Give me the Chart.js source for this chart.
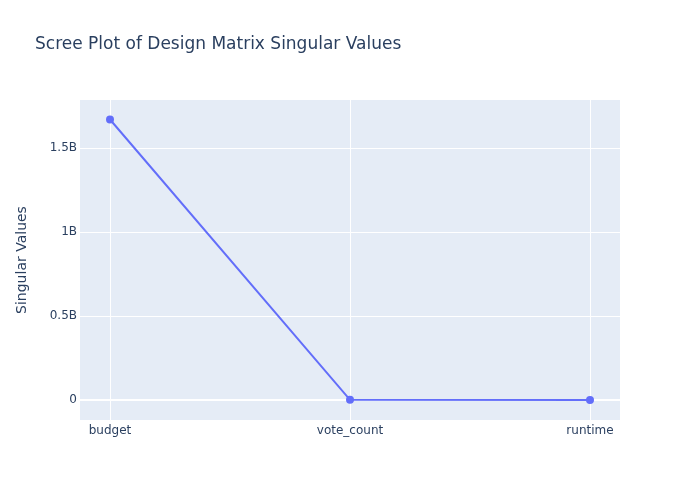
<!DOCTYPE html>
<html>
<head>
<meta charset="utf-8">
<script src="https://cdn.jsdelivr.net/npm/chart.js@4"></script>
<style>html,body{margin:0;padding:0;background:#fff}canvas{display:block}</style>
</head>
<body>
<canvas id="c" width="700" height="500"></canvas>
<script>
const categories = ["budget", "vote_count", "runtime"];
const singularValues = [1.67e9, 1.2e6, 4.5e4];
const yTickValues = [0, 0.5e9, 1e9, 1.5e9];
const yTickLabels = ["0", "0.5B", "1B", "1.5B"];
const titleText = "Scree Plot of Design Matrix Singular Values";
const yAxisTitle = "Singular Values";

const FONT = "'DejaVu Sans', verdana, arial, sans-serif";
const TXT = "#2a3f5f";

const bgPlugin = {
  id: "bg",
  beforeDraw(chart) {
    const {ctx, chartArea: a} = chart;
    ctx.save();
    ctx.fillStyle = "#E5ECF6";
    ctx.fillRect(a.left, a.top, a.right - a.left, a.bottom - a.top);
    ctx.restore();
  },
  afterDraw(chart) {
    const ctx = chart.ctx;
    ctx.save();
    ctx.font = "17px " + FONT;
    ctx.fillStyle = TXT;
    ctx.textBaseline = "middle";
    ctx.textAlign = "left";
    ctx.fillText(titleText, 35, 45);
    ctx.restore();
  }
};

new Chart(document.getElementById("c"), {
  type: "line",
  data: {
    datasets: [{
      data: categories.map((c, i) => ({x: i, y: singularValues[i]})),
      borderColor: "#636efa",
      backgroundColor: "#636efa",
      borderWidth: 2,
      pointRadius: 3,
      pointHoverRadius: 3,
      tension: 0
    }]
  },
  options: {
    responsive: false,
    animation: false,
    layout: {padding: {top: 100, right: 80, bottom: 0, left: 0}},
    plugins: {legend: {display: false}, tooltip: {enabled: false}, title: {display: false}},
    scales: {
      x: {
        type: "linear",
        min: -0.125,
        max: 2.125,
        afterBuildTicks: s => { s.ticks = categories.map((c, i) => ({value: i})); },
        afterFit: s => { s.height = 80; },
        grid: {color: "#ffffff", lineWidth: 1, drawTicks: false},
        border: {display: false},
        ticks: {
          padding: 4,
          color: TXT,
          font: {family: FONT, size: 12},
          maxRotation: 0,
          autoSkip: false,
          callback: v => categories[v] ?? ""
        }
      },
      y: {
        type: "linear",
        min: -0.119e9,
        max: 1.786e9,
        afterBuildTicks: s => { s.ticks = yTickValues.map(v => ({value: v})); },
        afterFit: s => { s.width = 80; },
        grid: {
          color: "#ffffff",
          lineWidth: ctx => (ctx.tick && ctx.tick.value === 0 ? 2 : 1),
          drawTicks: false
        },
        border: {display: false},
        ticks: {
          padding: 3,
          color: TXT,
          font: {family: FONT, size: 12},
          callback: v => { const i = yTickValues.indexOf(v); return i >= 0 ? yTickLabels[i] : ""; }
        },
        title: {
          display: true,
          text: yAxisTitle,
          color: TXT,
          font: {family: FONT, size: 14},
          padding: {top: 14, bottom: 0}
        }
      }
    }
  },
  plugins: [bgPlugin]
});
</script>
</body>
</html>
